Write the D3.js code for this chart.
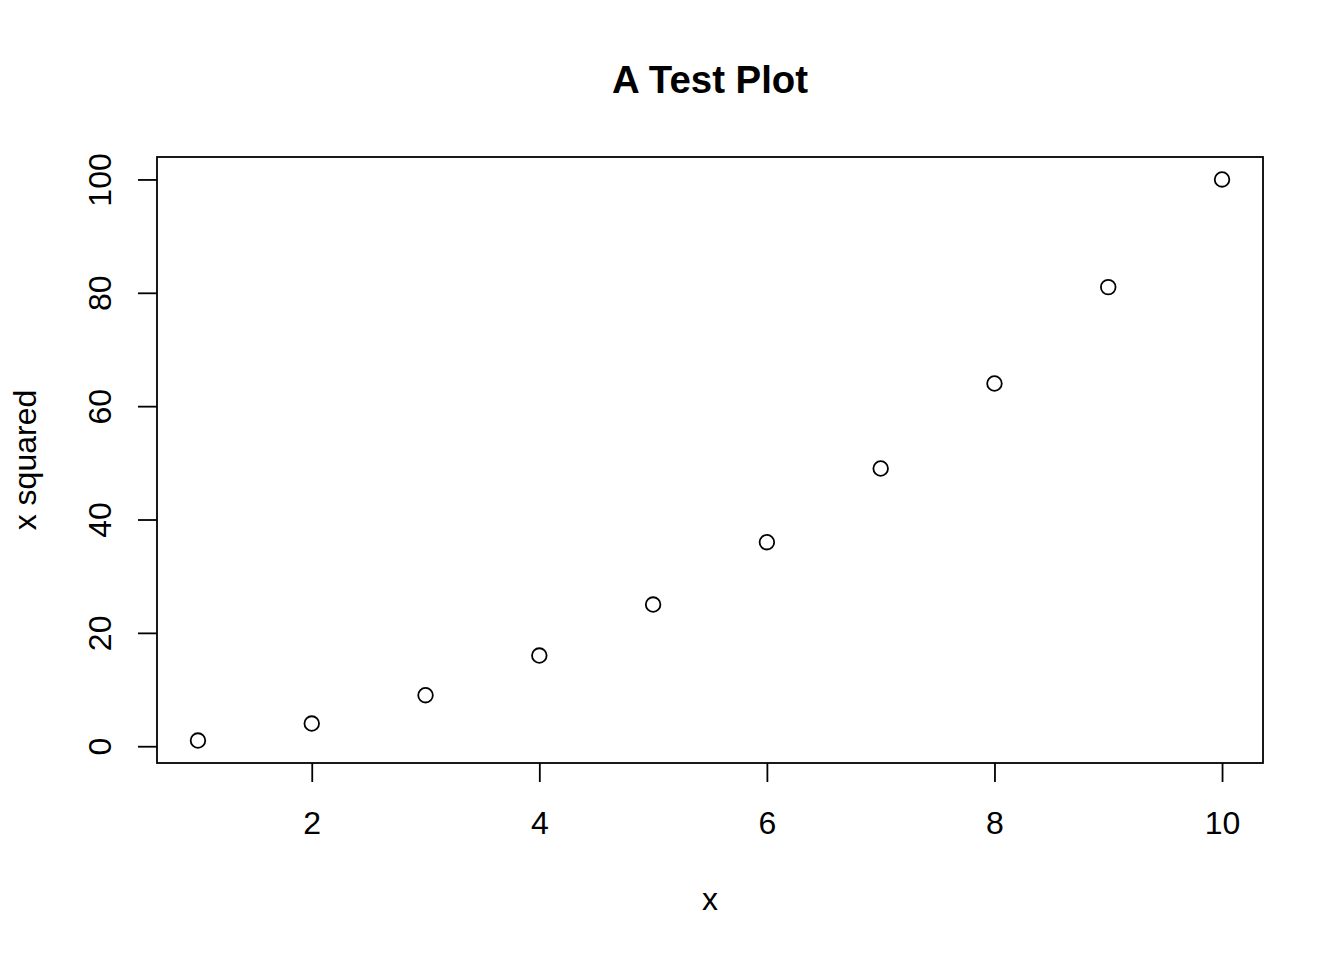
<!DOCTYPE html>
<html><head><meta charset="utf-8">
<script src="https://cdn.jsdelivr.net/npm/d3@7"></script>
<style>body{margin:0;background:#fff}svg{display:block}text{font-family:"Liberation Sans",Arial,sans-serif;fill:#000}</style>
</head><body>
<script>
const xValues = [1,2,3,4,5,6,7,8,9,10];
const yValues = [1,4,9,16,25,36,49,64,81,100];
const xTicks = [2,4,6,8,10];
const yTicks = [0,20,40,60,80,100];
const title = "A Test Plot";
const xLabel = "x";
const yLabel = "x squared";

const W=1344,H=960;
const L=157,R=1263,T=157,B=763;
const svg=d3.select("body").append("svg").attr("width",W).attr("height",H);
const xr=d3.extent(xValues), yr=d3.extent(yValues);
const xp=(xr[1]-xr[0])*0.04, yp=(yr[1]-yr[0])*0.04;
const x=d3.scaleLinear().domain([xr[0]-xp,xr[1]+xp]).range([L,R]);
const y=d3.scaleLinear().domain([yr[0]-yp,yr[1]+yp]).range([B,T]);

svg.append("rect").attr("x",L).attr("y",T).attr("width",R-L).attr("height",B-T)
  .attr("fill","none").attr("stroke","#000").attr("stroke-width",1.8);

const xa=svg.append("g").attr("transform",`translate(0,${B})`)
  .call(d3.axisBottom(x).tickValues(xTicks).tickSize(19).tickPadding(0).tickFormat(d3.format("d")));
xa.select(".domain").remove();
xa.selectAll("line").attr("stroke","#000").attr("stroke-width",1.8);
xa.selectAll("text").attr("font-size",32).attr("dy",null).attr("y",71).attr("fill","#000")
  .style("font-family","'Liberation Sans',Arial,sans-serif");

const ya=svg.append("g").attr("transform",`translate(${L},0)`)
  .call(d3.axisLeft(y).tickValues(yTicks).tickSize(19).tickPadding(0).tickFormat(d3.format("d")));
ya.select(".domain").remove();
ya.selectAll("line").attr("stroke","#000").attr("stroke-width",1.8);
ya.selectAll("text").attr("font-size",32).attr("dy",null).attr("x",null)
  .attr("text-anchor","middle").attr("fill","#000")
  .attr("transform","translate(-46,0) rotate(-90)")
  .style("font-family","'Liberation Sans',Arial,sans-serif");

svg.append("g").selectAll("circle").data(xValues.map((d,i)=>[d,yValues[i]])).join("circle")
  .attr("cx",d=>x(d[0])).attr("cy",d=>y(d[1])).attr("r",7.3)
  .attr("fill","none").attr("stroke","#000").attr("stroke-width",1.8);

svg.append("text").attr("x",(L+R)/2).attr("y",93).attr("text-anchor","middle")
  .attr("font-size",38.4).attr("font-weight","bold").text(title);
svg.append("text").attr("x",(L+R)/2).attr("y",910).attr("text-anchor","middle")
  .attr("font-size",32).text(xLabel);
svg.append("text").attr("transform",`translate(36,${(T+B)/2}) rotate(-90)`).attr("text-anchor","middle")
  .attr("font-size",32).text(yLabel);
</script>
</body></html>
